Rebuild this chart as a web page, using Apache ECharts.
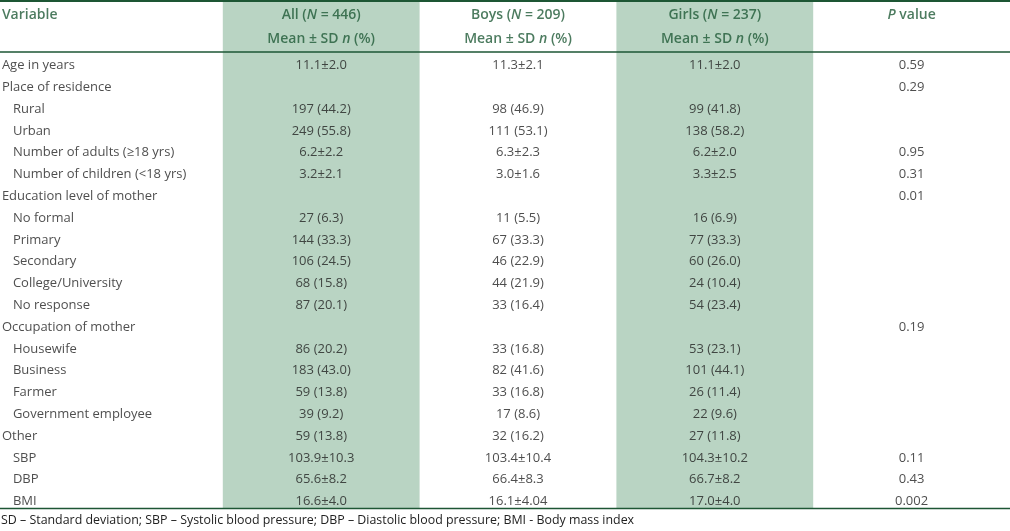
<!DOCTYPE html>
<html>
<head>
<meta charset="utf-8">
<script src="https://cdn.jsdelivr.net/npm/echarts@6/dist/echarts.min.js"></script>
<style>
  html, body { margin: 0; padding: 0; background: #fff; }
  #chart { width: 1010px; height: 531px; }
</style>
</head>
<body>
<div id="chart"></div>
<script>
// ---- data ----
const columns = ['Variable', 'All', 'Boys', 'Girls', 'P'];
const groupN = [null, 446, 209, 237, null];
const shadedColumns = [0, 1, 0, 1, 0];

const variables = [
  'Age in years', 'Place of residence', 'Rural', 'Urban',
  'Number of adults (≥18 yrs)', 'Number of children (<18 yrs)',
  'Education level of mother', 'No formal', 'Primary', 'Secondary',
  'College/University', 'No response', 'Occupation of mother',
  'Housewife', 'Business', 'Farmer', 'Government employee', 'Other',
  'SBP', 'DBP', 'BMI'
];
const indented = [0, 0, 1, 1, 1, 1, 0, 1, 1, 1, 1, 1, 0, 1, 1, 1, 1, 0, 1, 1, 1];
const allValues = [
  '11.1±2.0', '', '197 (44.2)', '249 (55.8)', '6.2±2.2', '3.2±2.1', '',
  '27 (6.3)', '144 (33.3)', '106 (24.5)', '68 (15.8)', '87 (20.1)', '',
  '86 (20.2)', '183 (43.0)', '59 (13.8)', '39 (9.2)', '59 (13.8)',
  '103.9±10.3', '65.6±8.2', '16.6±4.0'
];
const boysValues = [
  '11.3±2.1', '', '98 (46.9)', '111 (53.1)', '6.3±2.3', '3.0±1.6', '',
  '11 (5.5)', '67 (33.3)', '46 (22.9)', '44 (21.9)', '33 (16.4)', '',
  '33 (16.8)', '82 (41.6)', '33 (16.8)', '17 (8.6)', '32 (16.2)',
  '103.4±10.4', '66.4±8.3', '16.1±4.04'
];
const girlsValues = [
  '11.1±2.0', '', '99 (41.8)', '138 (58.2)', '6.2±2.0', '3.3±2.5', '',
  '16 (6.9)', '77 (33.3)', '60 (26.0)', '24 (10.4)', '54 (23.4)', '',
  '53 (23.1)', '101 (44.1)', '26 (11.4)', '22 (9.6)', '27 (11.8)',
  '104.3±10.2', '66.7±8.2', '17.0±4.0'
];
const pValues = [
  '0.59', '0.29', '', '', '0.95', '0.31', '0.01', '', '', '', '', '', '0.19',
  '', '', '', '', '', '0.11', '0.43', '0.002'
];
const footnote = 'SD – Standard deviation; SBP – Systolic blood pressure; DBP – Diastolic blood pressure; BMI - Body mass index';

// ---- styling ----
const FONT = 'Open Sans';
const TEXT = '#222222';
const HEAD = '#1f5a37';
const RULE = '#1d5634';
const SHADE = '#b9d4c3';
const BODY_SIZE = 13;
const HEAD_SIZE = 14;

const rowIdx = variables.map((_, i) => i);
const colCats = columns;

function headerLabel(c, row) {
  if (row === 0) {
    if (c === 0) return '{b|Variable}';
    if (c === 4) return '{bi|P}{b| value}';
    return '{b|' + columns[c] + ' (}{bi|N}{b| = ' + groupN[c] + ')}';
  }
  if (c >= 1 && c <= 3) return '{b|Mean ± SD }{bi|n}{b| (%)}';
  return '';
}
const headerData = [];
for (let r = 0; r < 2; r++) for (let c = 0; c < 5; c++) {
  const t = headerLabel(c, r);
  if (!t) continue;
  const item = { value: [colCats[c], r], label: { formatter: t } };
  if (c === 0) { item.label.align = 'left'; item.label.offset = [-122.5, 0]; }
  headerData.push(item);
}
const bodyData = [];
[allValues, boysValues, girlsValues, pValues].forEach((arr, k) => {
  arr.forEach((v, i) => { if (v) bodyData.push({ value: [colCats[k + 1], i, v] }); });
});
const varData = variables.map((v, i) => ({
  value: [colCats[0], i, v],
  label: { offset: [indented[i] ? -111.5 : -122.5, 0] }
}));

const rich = {
  b: { fontFamily: FONT, fontSize: HEAD_SIZE, fontWeight: 600, color: HEAD },
  bi: { fontFamily: FONT, fontSize: HEAD_SIZE, fontWeight: 600, fontStyle: 'italic', color: HEAD }
};

const chart = echarts.init(document.getElementById('chart'), null, { renderer: 'canvas' });
chart.setOption({
  animation: false,
  backgroundColor: '#fff',
  grid: [
    { left: 26, right: 0, top: 0, height: 508 },          // shading
    { left: 26, right: 0, top: 3, height: 48 },           // header
    { left: 26, right: 0, top: 54.6, height: 457.8 }      // body
  ],
  xAxis: [0, 1, 2].map(g => ({
    type: 'category', gridIndex: g, data: colCats, show: false,
    boundaryGap: true
  })),
  yAxis: [
    { type: 'value', gridIndex: 0, min: 0, max: 1, show: false },
    { type: 'category', gridIndex: 1, data: [0, 1], inverse: true, show: false },
    { type: 'category', gridIndex: 2, data: rowIdx, inverse: true, show: false }
  ],
  series: [
    {
      type: 'bar', xAxisIndex: 0, yAxisIndex: 0,
      data: shadedColumns.map(s => s ? 1 : null),
      barWidth: '100%', barCategoryGap: 0, silent: true,
      itemStyle: { color: SHADE }, z: 0
    },
    {
      type: 'scatter', xAxisIndex: 1, yAxisIndex: 1, symbolSize: 0,
      data: headerData,
      label: { show: true, position: 'inside', rich: rich }, z: 5
    },
    {
      type: 'scatter', xAxisIndex: 2, yAxisIndex: 2, symbolSize: 0,
      data: bodyData,
      label: {
        show: true, position: 'inside', formatter: p => p.value[2],
        fontFamily: FONT, fontSize: BODY_SIZE, color: TEXT
      }, z: 5
    },
    {
      type: 'scatter', xAxisIndex: 2, yAxisIndex: 2, symbolSize: 0,
      data: varData,
      label: {
        show: true, position: 'inside', align: 'left', formatter: p => p.value[2],
        fontFamily: FONT, fontSize: BODY_SIZE, color: TEXT
      }, z: 5
    }
  ],
  graphic: [
    { type: 'line', shape: { x1: 0, y1: 1, x2: 1010, y2: 1 }, style: { stroke: RULE, lineWidth: 2 }, z: 10 },
    { type: 'line', shape: { x1: 0, y1: 52, x2: 1010, y2: 52 }, style: { stroke: RULE, lineWidth: 1.5 }, z: 10 },
    { type: 'line', shape: { x1: 0, y1: 508.5, x2: 1010, y2: 508.5 }, style: { stroke: RULE, lineWidth: 1.5 }, z: 10 },
    { type: 'text', left: 1, top: 514, style: { text: footnote, font: '12.4px "Open Sans"', fill: TEXT }, z: 10 }
  ]
});
</script>
</body>
</html>
